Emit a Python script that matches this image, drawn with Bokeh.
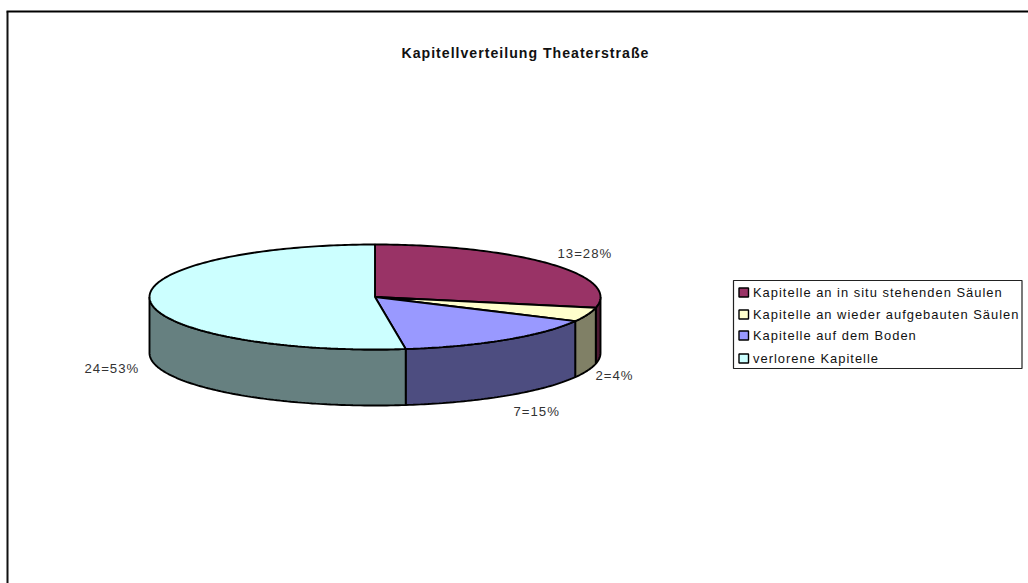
import math
from bokeh.plotting import figure
from bokeh.models import Range1d
from bokeh.core.properties import value
from bokeh.embed import file_html
from bokeh.resources import INLINE

title_text = "Kapitellverteilung Theaterstraße"
categories = ["Kapitelle an in situ stehenden Säulen", "Kapitelle an wieder aufgebauten Säulen",
              "Kapitelle auf dem Boden", "verlorene Kapitelle"]
counts = [13, 2, 7, 24]
labels = ["13=28%", "2=4%", "7=15%", "24=53%"]
top_colors = ["#993366", "#FFFFCC", "#9999FF", "#CCFFFF"]
side_colors = ["#4D1A33", "#808066", "#4D4D80", "#668080"]

W, H = 1028, 583
p = figure(width=W, height=H, output_backend="svg", toolbar_location=None,
           x_range=Range1d(0, W), y_range=Range1d(H, 0), min_border=0)
p.styles = {"position": "absolute", "left": "0px", "top": "0px", "letter-spacing": "1px"}
p.axis.visible = False
p.grid.visible = False
p.outline_line_color = None
p.background_fill_color = "white"

FONT = value("Liberation Sans")
CX, CY, RX, RY, DEPTH = 374.5, 296.5, 225.5, 52.5, 56
total = sum(counts)


def pt(a, dy=0):
    return CX + RX * math.sin(a), CY - RY * math.cos(a) + dy


def arc(a0, a1, dy=0):
    n = max(2, int(abs(a1 - a0) * 60))
    pts = [pt(a0 + (a1 - a0) * i / n, dy) for i in range(n + 1)]
    return [q[0] for q in pts], [q[1] for q in pts]


# frame: only the left and top edges are visible in the reference
p.line([7, 7], [11, 583], line_color="#111111", line_width=2)
p.line([6, 1028], [11, 11], line_color="#000000", line_width=2)

bounds = [0.0]
for c in counts:
    bounds.append(bounds[-1] + c / total * 2 * math.pi)

# side walls: visible for angles between 90 and 270 degrees
lo_vis, hi_vis = math.pi / 2, 3 * math.pi / 2
for i in range(len(counts)):
    a0, a1 = max(bounds[i], lo_vis), min(bounds[i + 1], hi_vis)
    if a1 <= a0:
        continue
    xt, yt = arc(a0, a1)
    xb, yb = arc(a1, a0, DEPTH)
    p.patch(xt + xb, yt + yb, fill_color=side_colors[i], line_color="#000000", line_width=1.9)

# top faces
for i in range(len(counts)):
    xa, ya = arc(bounds[i], bounds[i + 1])
    p.patch([CX] + xa, [CY] + ya, fill_color=top_colors[i], line_color="#000000", line_width=1.9)

# data labels
label_pos = [(557, 253), (595, 375), (513, 411), (84, 368)]
for t, (x, y) in zip(labels, label_pos):
    p.text([x], [y], text=[t], text_font=FONT, text_font_size="9.9pt", text_color="#333333",
           text_align="left", text_baseline="middle")

p.text([401], [52], text=[title_text], text_font=FONT, text_font_size="10.6pt", text_font_style="bold",
       text_color="#111111", text_align="left", text_baseline="middle")

# legend
p.quad(left=[733], right=[1021.5], top=[280], bottom=[368], fill_color="white",
       line_color="#222222", line_width=1.2)
row_y = [292, 314, 335, 358]
for name, col, y in zip(categories, top_colors, row_y):
    p.quad(left=[738.5], right=[748], top=[y - 4.5], bottom=[y + 4.5], fill_color=col,
           line_color="#000000", line_width=1.4)
    p.text([752.5], [y], text=[name], text_font=FONT, text_font_size="9.7pt", text_color="#111111",
           text_align="left", text_baseline="middle")

open("out.html", "w").write(file_html(p, INLINE))
